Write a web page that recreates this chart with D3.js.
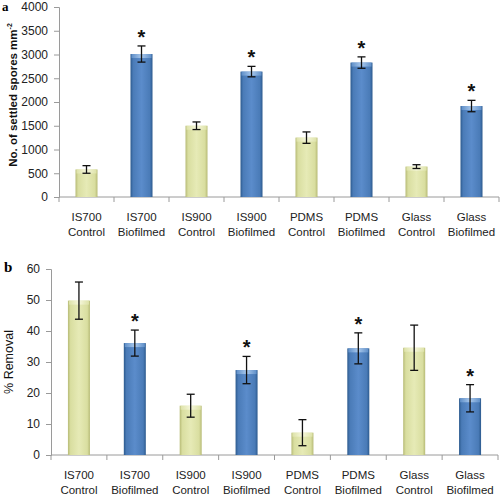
<!DOCTYPE html>
<html><head><meta charset="utf-8">
<script src="https://cdn.jsdelivr.net/npm/d3@7"></script>
<style>body{margin:0;background:#fff;}svg{display:block;font-family:"Liberation Sans",Arial,sans-serif;}</style>
</head><body>
<script>
const categories = [["IS700","Control"],["IS700","Biofilmed"],["IS900","Control"],["IS900","Biofilmed"],["PDMS","Control"],["PDMS","Biofilmed"],["Glass","Control"],["Glass","Biofilmed"]];
const types = ["control","bio","control","bio","control","bio","control","bio"];
const sporesMean = [580, 3010, 1500, 2640, 1250, 2830, 640, 1915];
const sporesErr = [80, 170, 80, 110, 120, 120, 40, 120];
const sporesStar = [false, true, false, true, false, true, false, true];
const removalMean = [49.8, 36.1, 15.9, 27.4, 7.2, 34.4, 34.6, 18.3];
const removalErr = [6.0, 4.2, 3.7, 4.4, 4.2, 5.0, 7.3, 4.4];
const removalStar = [false, true, false, true, false, true, false, true];
const sporesTicks = [0,500,1000,1500,2000,2500,3000,3500,4000];
const removalTicks = [0,10,20,30,40,50,60];

const svg = d3.select("body").append("svg").attr("width",500).attr("height",494);
const defs = svg.append("defs");
function hgrad(id, stops){
  const g = defs.append("linearGradient").attr("id",id).attr("x1","0").attr("x2","1").attr("y1","0").attr("y2","0");
  stops.forEach(s=>g.append("stop").attr("offset",s[0]).attr("stop-color",s[1]));
}
hgrad("gBio",[[0,"#2c5a8e"],[0.12,"#4a7bb7"],[0.5,"#5b8ccb"],[0.88,"#4a7bb7"],[1,"#2c5a8e"]]);
hgrad("gCtl",[[0,"#b7bb76"],[0.12,"#d9dea0"],[0.5,"#e6eab6"],[0.88,"#d9dea0"],[1,"#b7bb76"]]);
hgrad("gBioTop",[[0,"#5f8fc8"],[0.5,"#a9c8ec"],[1,"#5f8fc8"]]);
hgrad("gCtlTop",[[0,"#dde2a8"],[0.5,"#f6f7dc"],[1,"#dde2a8"]]);

function panel(o){
  const x = d3.scaleBand().domain(d3.range(categories.length)).range([o.x0,o.x1]).padding(0);
  const y = d3.scaleLinear().domain([0,o.max]).range([o.y0,o.y1]);
  const g = svg.append("g");
  const ya = g.append("g").attr("transform",`translate(${o.x0},0)`).call(d3.axisLeft(y).tickValues(o.ticks).tickFormat(d3.format("d")).tickSize(5).tickPadding(6));
  ya.select(".domain").attr("stroke","#9a9a9a");
  ya.selectAll(".tick line").attr("stroke","#9a9a9a");
  ya.selectAll(".tick text").attr("font-size",12).attr("fill","#222").attr("font-family","'Liberation Sans',Arial,sans-serif");
  g.append("line").attr("x1",o.x0).attr("x2",o.x1).attr("y1",o.y0).attr("y2",o.y0).attr("stroke","#9a9a9a");
  const bounds = d3.range(categories.length+1).map(i=> i<categories.length ? x(i) : o.x1);
  g.selectAll(".bt").data(bounds).join("line").attr("x1",d=>d).attr("x2",d=>d).attr("y1",o.y0).attr("y2",o.y0+5).attr("stroke","#9a9a9a");
  categories.forEach((c,i)=>{
    const cx = x(i)+x.bandwidth()/2;
    const t = g.append("text").attr("x",cx).attr("y",o.y0+o.ly).attr("text-anchor","middle").attr("font-size",11.5).attr("fill","#222");
    t.append("tspan").attr("x",cx).text(c[0]);
    t.append("tspan").attr("x",cx).attr("dy",14.5).text(c[1]);
  });
  const bw = 22;
  o.mean.forEach((v,i)=>{
    const cx = x(i)+x.bandwidth()/2;
    const bio = types[i]==="bio";
    g.append("rect").attr("x",cx-bw/2).attr("y",y(v)).attr("width",bw).attr("height",o.y0-y(v)).attr("fill",bio?"url(#gBio)":"url(#gCtl)");
    g.append("rect").attr("x",cx-bw/2+1).attr("y",y(v)).attr("width",bw-2).attr("height",4).attr("fill",bio?"url(#gBioTop)":"url(#gCtlTop)");
    const e = o.err[i];
    const yt = y(v+e), yb = y(v-e);
    g.append("line").attr("x1",cx).attr("x2",cx).attr("y1",yt).attr("y2",yb).attr("stroke","#111").attr("stroke-width",1.3);
    [yt,yb].forEach(yy=>g.append("line").attr("x1",cx-4).attr("x2",cx+4).attr("y1",yy).attr("y2",yy).attr("stroke","#111").attr("stroke-width",1.3));
    if(o.star[i]) g.append("text").attr("x",cx).attr("y",yt-2).attr("text-anchor","middle").attr("font-size",20).attr("font-weight","bold").attr("fill","#111").text("*");
  });
}
panel({x0:59,x1:499,y0:197,y1:7,max:4000,ticks:sporesTicks,mean:sporesMean,err:sporesErr,star:sporesStar,ly:24});
panel({x0:51,x1:498,y0:455,y1:269,max:60,ticks:removalTicks,mean:removalMean,err:removalErr,star:removalStar,ly:24});

svg.append("text").attr("x",2).attr("y",11).attr("font-size",13).attr("font-weight","bold").attr("font-family","Liberation Serif, serif").text("a");
svg.append("text").attr("x",4).attr("y",272).attr("font-size",15).attr("font-weight","bold").attr("font-family","Liberation Serif, serif").text("b");
const yl = svg.append("text").attr("transform","translate(17,95) rotate(-90)").attr("text-anchor","middle").attr("font-size",11.5).attr("font-weight","bold").attr("fill","#111");
yl.append("tspan").text("No. of settled spores mm");
yl.append("tspan").attr("font-size",7).attr("dy",-5).text("-2");
svg.append("text").attr("transform","translate(13,362) rotate(-90)").attr("text-anchor","middle").attr("font-size",12.5).attr("fill","#111").text("% Removal");
</script>
</body></html>
